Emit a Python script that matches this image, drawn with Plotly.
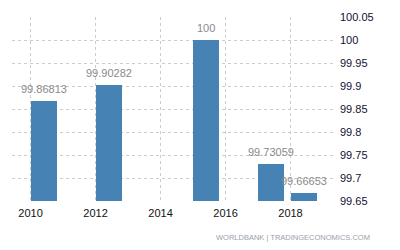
import plotly.graph_objects as go

years = [2010, 2012, 2015, 2017, 2018]
values = [99.86813, 99.90282, 100, 99.73059, 99.66653]
labels = ["99.86813", "99.90282", "100", "99.73059", "99.66653"]
x_ticks = [2010, 2012, 2014, 2016, 2018]
y_ticks = [99.65, 99.7, 99.75, 99.8, 99.85, 99.9, 99.95, 100, 100.05]
y_tick_text = ["99.65", "99.7", "99.75", "99.8", "99.85", "99.9", "99.95", "100", "100.05"]

BAR_W = 0.8
FONT = "Liberation Sans, Arial, sans-serif"

fig = go.Figure()
fig.add_trace(go.Bar(
    x=years, y=values, offset=0, width=BAR_W,
    marker=dict(color="#4682B4", line=dict(width=0)),
    hoverinfo="skip",
))
for yr, v, lab in zip(years, values, labels):
    fig.add_annotation(x=yr + BAR_W / 2, y=v, text=lab, showarrow=False,
                       xanchor="center", yanchor="middle", yshift=12,
                       font=dict(family=FONT, size=11, color="#8a8a8a"))

grid = dict(showgrid=True, gridcolor="#cccccc", griddash="dot", gridwidth=1, zeroline=False, showline=False)
fig.update_xaxes(range=[2009.43, 2019.4], tickmode="array", tickvals=x_ticks,
                 ticktext=[str(t) for t in x_ticks], ticklabelstandoff=4,
                 tickfont=dict(family=FONT, size=11, color="#111111"), ticks="", **grid)
fig.update_yaxes(range=[99.65, 100.05], side="right", tickmode="array", tickvals=y_ticks,
                 ticktext=y_tick_text, ticklabelstandoff=3,
                 tickfont=dict(family=FONT, size=11, color="#111133"), ticks="", **grid)

fig.add_annotation(text="WORLDBANK | TRADINGECONOMICS.COM", xref="paper", yref="paper",
                   x=1.11, y=-0.2, xanchor="right", yanchor="middle", showarrow=False,
                   font=dict(family=FONT, size=7.5, color="#9aa0aa"))

fig.update_layout(width=400, height=250, margin=dict(l=12, r=64, t=17, b=49),
                  paper_bgcolor="white", plot_bgcolor="white", showlegend=False, bargap=0)
fig.write_html("out.html")
